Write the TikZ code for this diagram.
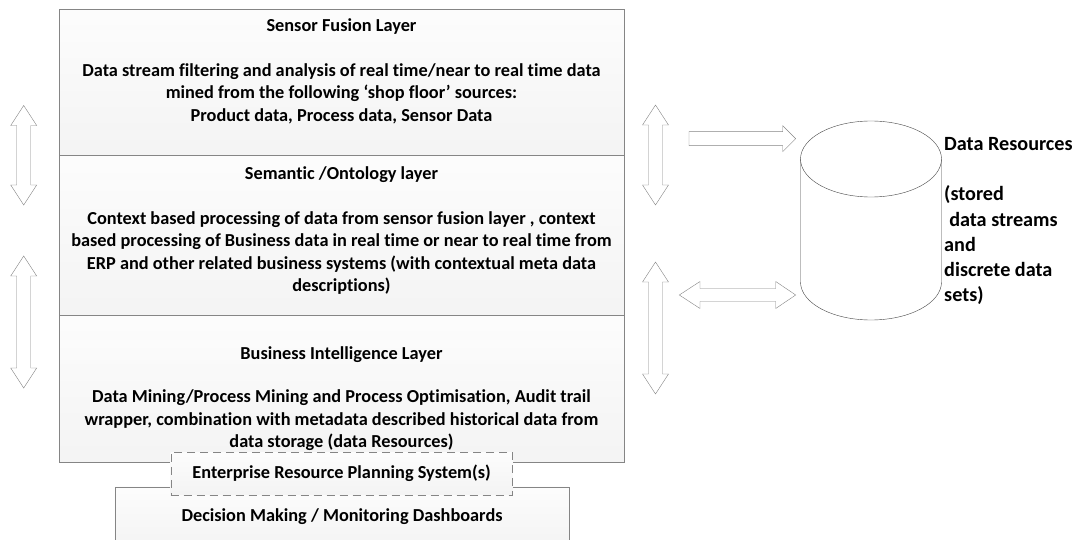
\documentclass[tikz,border=0pt]{standalone}
\usepackage{fontspec}
\setmainfont{Carlito}[Ligatures=NoCommon]
\definecolor{rim}{HTML}{858585}
\definecolor{drum}{HTML}{454545}

\tikzset{
  layer/.style={draw=rim, top color=gray!2, bottom color=gray!9, anchor=north west,
    minimum width=564.3, inner sep=0},
  heading/.style={font=\bfseries\fontsize{18.3}{22.5}\selectfont, inner sep=0},
  body/.style={heading, align=center},
  blockarrow/.style={draw=rim, fill=white, line join=miter},
}

\begin{document}
\begin{tikzpicture}[x=1pt,y=-1pt]
\useasboundingbox (0,0) rectangle (1082,540);

% the three stacked layers
\node[layer, minimum height=145.7] (sensor)   at (59.4,9.3)  {};
\node[layer, minimum height=160]   (semantic) at (59.4,155)  {};
\node[layer, minimum height=146.7] (business) at (59.4,315)  {};

\node[heading] (sensorT) at (341.5,26.7) {Sensor Fusion Layer};
\node[body] (sensorB) at (341.5,93.7) {Data stream filtering and analysis of real time/near to real time data\\
  mined from the following ‘shop floor’ sources:\\Product data, Process data, Sensor Data};

\node[heading] (semanticT) at (341.5,174.3) {Semantic /Ontology layer};
\node[body] (semanticB) at (341.5,253) {Context based processing of data from sensor fusion layer , context\\
  based processing of Business data in real time or near to real time from\\
  ERP and other related business systems (with contextual meta data\\descriptions)};

\node[heading] (businessT) at (341.5,355) {Business Intelligence Layer};
\node[body] (businessB) at (341.5,420.5) {Data Mining/Process Mining and Process Optimisation, Audit trail\\
  wrapper, combination with metadata described historical data from\\data storage (data Resources)};

% dashboards below, ERP box sits on top of both
\node[layer, minimum width=454.3, minimum height=59.6, heading] (dash) at (114.7,486.7)
  {Decision Making / Monitoring Dashboards};
\node[draw=rim, dash pattern=on 8pt off 5pt, top color=gray!2, bottom color=gray!9,
  minimum width=341.8, minimum height=42.7, heading] (erp) at (341.6,473.6)
  {Enterprise Resource Planning System(s)};

% up/down block arrows beside the layers
\foreach \cx/\ta/\len in {23.7/105.5/99.5, 23.7/256/132, 655.5/105/100, 655.5/262/132}
  \draw[blockarrow] (\cx,\ta) --++(13,20) --++(-6,0) --++(0,\len-40) --++(6,0)
    --++(-13,20) --++(-13,-20) --++(6,0) --++(0,40-\len) --++(-6,0) -- cycle;

% arrows to the store
\draw[blockarrow] (689,131.7) -- (782.7,131.7) -- (782.7,125.7) -- (795.7,138.7)
  -- (782.7,151.7) -- (782.7,145.7) -- (689,145.7) -- cycle;
\draw[blockarrow] (679.3,295) -- (700,281.5) -- (700,288.5) -- (775.7,288.5) -- (775.7,281.5)
  -- (795.7,295) -- (775.7,308.5) -- (775.7,301.5) -- (700,301.5) -- (700,308.5) -- cycle;

% data store drum
\draw[drum, fill=white] (800.5,159) -- (800.5,282) arc[start angle=180, end angle=0, x radius=70.5, y radius=38]
  -- (941.5,159);
\draw[drum] (871,159) ellipse[x radius=70.5, y radius=38];

\node[font=\bfseries\fontsize{20.2}{25.3}\selectfont, align=left, anchor=west, inner sep=0] (res) at (944,221)
  {Data Resources\\[25.3pt](stored\\\hspace*{.25em}data streams\\and\\discrete data\\sets)};
\end{tikzpicture}
\end{document}
